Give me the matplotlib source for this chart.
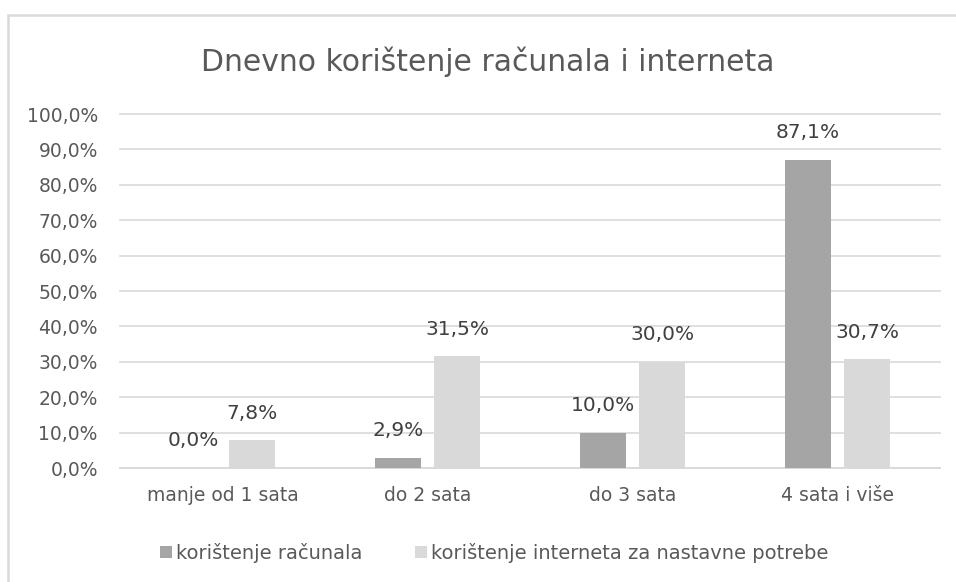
import matplotlib
matplotlib.use("Agg")
import matplotlib.pyplot as plt
import numpy as np
from matplotlib.patches import Rectangle

categories = ["manje od 1 sata", "do 2 sata", "do 3 sata", "4 sata i više"]
racunala = [0.0, 2.9, 10.0, 87.1]
internet = [7.8, 31.5, 30.0, 30.7]
series_names = ["korištenje računala", "korištenje interneta za nastavne potrebe"]

plt.rcParams['font.family'] = ['DejaVu Sans']

fig = plt.figure(figsize=(9.56, 5.82), dpi=100)
# chart frame (only top and left edges are visible in the reference)
fig.patches.append(Rectangle((8/956, -0.1), 1.1, 1.1 - 15/582, transform=fig.transFigure,
                             fill=False, edgecolor="#d9d9d9", linewidth=1.8))
ax = fig.add_axes([120/956, 1-468/582, 820/956, 354/582])

x = np.arange(len(categories))
w = 0.224
off = 0.144
b1 = ax.bar(x - off, racunala, w, color="#a5a5a5", label=series_names[0], zorder=3)
b2 = ax.bar(x + off, internet, w, color="#d9d9d9", label=series_names[1], zorder=3)

for bars, vals in [(b1, racunala), (b2, internet)]:
    for b, v in zip(bars, vals):
        ax.annotate(f"{v:.1f}%".replace(".", ","), (b.get_x() + b.get_width()/2, v),
                    xytext=(0, 27), textcoords="offset pixels", ha="center", va="center",
                    fontsize=14.5, color="#404040")

ax.set_xlim(-0.5, 3.5)
ax.set_ylim(0, 100)
ax.set_yticks(np.arange(0, 101, 10))
ax.set_yticklabels([f"{t:.1f}%".replace(".", ",") for t in np.arange(0, 101, 10)])
ax.set_xticks(x)
ax.set_xticklabels(categories)
ax.tick_params(axis="both", length=0, labelcolor="#595959")
ax.tick_params(axis="y", pad=16, labelsize=13.5)
ax.tick_params(axis="x", pad=13, labelsize=13.5)
ax.grid(axis="y", color="#d9d9d9", linewidth=1.2, zorder=0)
for gl in ax.get_ygridlines():
    gl.set_clip_on(False)
for s in ["top", "right", "left"]:
    ax.spines[s].set_visible(False)
ax.spines["bottom"].set_color("#d9d9d9")
ax.spines["bottom"].set_linewidth(1.2)

fig.text(488/956, 1-62/582, "Dnevno korištenje računala i interneta", ha="center", va="center",
         fontsize=21.5, color="#595959")

fig.legend(loc="center", bbox_to_anchor=(494/956, 1-553/582), ncol=2, frameon=False,
           fontsize=14, labelcolor="#595959", handlelength=0.62, handleheight=0.62,
           handletextpad=0.2, columnspacing=2.7)

fig.savefig("out.png", dpi=100)
